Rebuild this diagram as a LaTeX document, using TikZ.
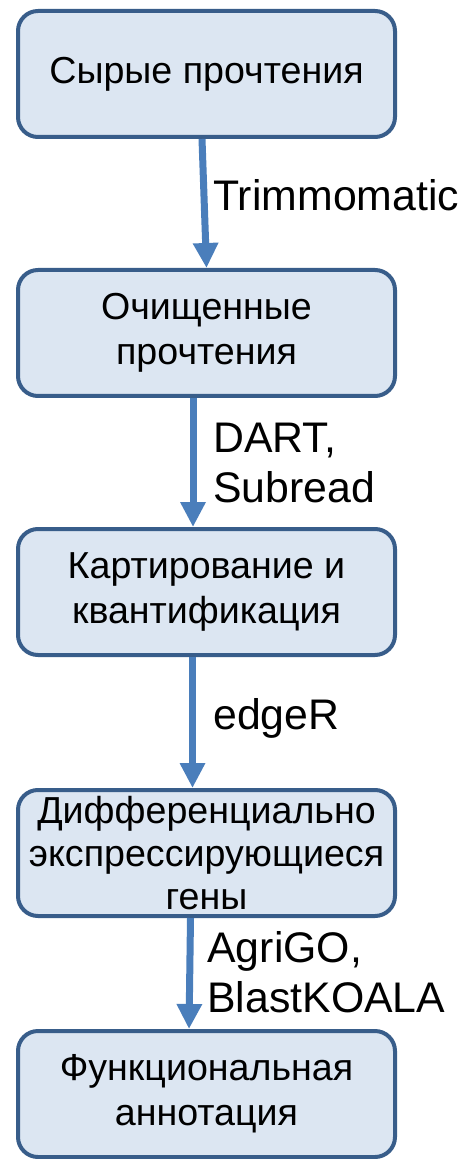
\documentclass[tikz,border=0pt]{standalone}
\usepackage{fontspec}
\setmainfont{Liberation Sans}
\usetikzlibrary{arrows.meta}

\definecolor{stagefill}{HTML}{DCE6F2}
\definecolor{stageline}{HTML}{385D8A}
\definecolor{flowline}{HTML}{4A7EBB}

\begin{document}
\begin{tikzpicture}[
        x=0.5pt, y=-0.5pt,
        stage/.style={rectangle, draw=stageline, line width=2pt, rounded corners=10pt, fill=stagefill, minimum width=188.5pt, minimum height=63pt, align=center, inner sep=0pt, font={\fontsize{18.8}{22.5}\selectfont}},
        flow/.style={-{Triangle[width=12pt,length=12.5pt]}, draw=flowline, line width=3.5pt},
        prog/.style={anchor=west, align=left, inner sep=0pt, font={\fontsize{21.4}{25}\selectfont}}
    ]

    \useasboundingbox (0,0) rectangle (464,1159);

    % Pipeline stages
    \node[stage] (raw) at (206.5,74) {Сырые прочтения};
    \node[stage] (clean) at (206.5,333) {Очищенные\\прочтения};
    \node[stage] (mapped) at (206.5,592) {Картирование и\\квантификация};
    \node[stage, font={\fontsize{18.8}{21.5}\selectfont}] (deg) at (206.5,853) {Дифференциально\\экспрессирующиеся\\гены};
    \node[stage] (annot) at (206.5,1094) {Функциональная\\аннотация};

    % Arrows between stages
    \draw[flow] ([xshift=-2.25pt]raw.south) -- (clean.north);
    \draw[flow] ([xshift=-6.75pt]clean.south) -- ([xshift=-6.75pt]mapped.north);
    \draw[flow] ([xshift=-7pt]mapped.south) -- ([xshift=-7pt]deg.north);
    \draw[flow] ([xshift=-8pt]deg.south) -- ([xshift=-8.75pt]annot.north);

    % Tools used at each step
    \node[prog] (trim) at (213,195) {Trimmomatic};
    \node[prog] (align) at (213,463) {DART,\\Subread};
    \node[prog] (count) at (213,718) {edgeR};
    \node[prog] (func) at (207,972) {AgriGO,\\BlastKOALA};

\end{tikzpicture}
\end{document}
